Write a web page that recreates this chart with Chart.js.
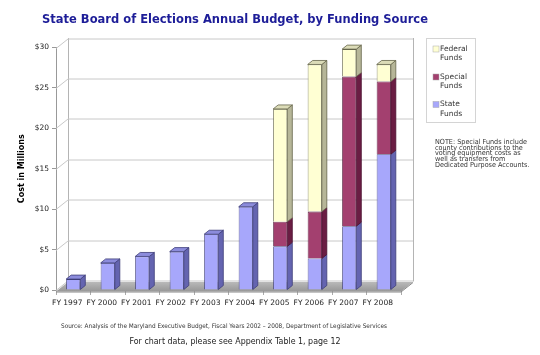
<!DOCTYPE html>
<html>
<head>
<meta charset="utf-8">
<script src="https://cdn.jsdelivr.net/npm/chart.js@4/dist/chart.umd.min.js"></script>
<style>
  html, body { margin: 0; padding: 0; background: #fff; }
  #c { display: block; width: 540px; height: 355px; }
</style>
</head>
<body>
<canvas id="c" width="540" height="355"></canvas>
<script>
// ---- data ----
const categories = ['FY 1997','FY 2000','FY 2001','FY 2002','FY 2003','FY 2004','FY 2005','FY 2006','FY 2007','FY 2008'];
const stateFunds   = [1.35, 3.35, 4.15, 4.75, 6.9, 10.3, 5.4, 3.9, 7.9, 16.8];
const specialFunds = [null, null, null, null, null, null, 3.05, 5.8, 18.5, 9.0];
const federalFunds = [null, null, null, null, null, null, 13.95, 18.2, 3.4, 2.1];
const seriesNames  = ['State Funds', 'Special Funds', 'Federal Funds'];
const legendLines  = [['Federal','Funds'], ['Special','Funds'], ['State','Funds']];
const yTickValues  = [0, 5, 10, 15, 20, 25, 30];
const titleText  = 'State Board of Elections Annual Budget, by Funding Source';
const yTitleText = 'Cost in Millions';
const noteLines  = ['NOTE: Special Funds include', 'county contributions to the', 'voting equipment costs as', 'well as transfers from', 'Dedicated Purpose Accounts.'];
const sourceText = 'Source: Analysis of the Maryland Executive Budget, Fiscal Years 2002 \u2013 2008, Department of Legislative Services';
const footerText = 'For chart data, please see Appendix Table 1, page 12';

const FONT = '"DejaVu Sans", Verdana, sans-serif';
const WALL_DX = 12, WALL_DY = -9.5;   // depth of the 3D box
const BAR_DX = 5, BAR_DY = -4;        // depth of each bar

function scaledText(ctx, text, font, color, x, y, targetW, align) {
  ctx.save();
  ctx.font = font;
  ctx.fillStyle = color;
  ctx.textBaseline = 'middle';
  const w = ctx.measureText(text).width;
  const sx = targetW ? targetW / w : 1;
  ctx.translate(x, y);
  ctx.scale(sx, 1);
  ctx.textAlign = align || 'center';
  ctx.fillText(text, 0, 0);
  ctx.restore();
}

const box3d = {
  id: 'box3d',
  beforeDatasetsDraw(chart) {
    const { ctx, chartArea: { left: L, right: R }, scales: { y } } = chart;
    const T = y.getPixelForValue(30), B = y.getPixelForValue(0);
    ctx.save();
    ctx.lineWidth = 1;
    // back wall edges
    ctx.strokeStyle = '#b4b4b4';
    ctx.beginPath();
    ctx.moveTo(L + WALL_DX + 0.5, T + WALL_DY);
    ctx.lineTo(L + WALL_DX + 0.5, B + WALL_DY);
    ctx.moveTo(R + WALL_DX + 0.5, T + WALL_DY);
    ctx.lineTo(R + WALL_DX + 0.5, B + WALL_DY + 1);
    ctx.stroke();
    // gridlines on the back wall + left wall diagonals
    ctx.strokeStyle = '#c8c8c8';
    y.ticks.forEach(t => {
      const py = Math.round(y.getPixelForValue(t.value)) + 0.5;
      ctx.beginPath();
      ctx.moveTo(L, py);
      ctx.lineTo(L + WALL_DX, py + WALL_DY);
      ctx.lineTo(R + WALL_DX, py + WALL_DY);
      ctx.stroke();
    });
    // floor
    const fb = B + 1.5;
    const g = ctx.createLinearGradient(0, fb + WALL_DY, 0, fb);
    g.addColorStop(0, '#b9b9b9');
    g.addColorStop(1, '#979797');
    ctx.fillStyle = g;
    ctx.beginPath();
    ctx.moveTo(L, fb);
    ctx.lineTo(R, fb);
    ctx.lineTo(R + WALL_DX, fb + WALL_DY);
    ctx.lineTo(L + WALL_DX, fb + WALL_DY);
    ctx.closePath();
    ctx.fill();
    ctx.strokeStyle = '#8a8a8a';
    ctx.beginPath();
    ctx.moveTo(L, fb + 0.5);
    ctx.lineTo(R, fb + 0.5);
    ctx.lineTo(R + WALL_DX, fb + WALL_DY + 0.5);
    ctx.stroke();
    ctx.restore();
  },
  afterDatasetsDraw(chart) {
    const { ctx } = chart;
    const n = chart.data.labels.length;
    ctx.save();
    ctx.lineWidth = 0.8;
    for (let i = 0; i < n; i++) {
      let topDs = -1;
      chart.data.datasets.forEach((ds, di) => { if (ds.data[i] != null && ds.data[i] > 0) topDs = di; });
      chart.data.datasets.forEach((ds, di) => {
        if (ds.data[i] == null || !(ds.data[i] > 0)) return;
        const el = chart.getDatasetMeta(di).data[i];
        const p = el.getProps(['x', 'y', 'base', 'width'], true);
        const xl = p.x - p.width / 2, xr = p.x + p.width / 2;
        ctx.strokeStyle = ds.borderColor;
        ctx.fillStyle = ds.sideColor;
        ctx.beginPath();
        ctx.moveTo(xr, p.y);
        ctx.lineTo(xr + BAR_DX, p.y + BAR_DY);
        ctx.lineTo(xr + BAR_DX, p.base + BAR_DY);
        ctx.lineTo(xr, p.base);
        ctx.closePath();
        ctx.fill();
        ctx.stroke();
        if (di === topDs) {
          ctx.fillStyle = ds.topColor;
          ctx.beginPath();
          ctx.moveTo(xl, p.y);
          ctx.lineTo(xl + BAR_DX, p.y + BAR_DY);
          ctx.lineTo(xr + BAR_DX, p.y + BAR_DY);
          ctx.lineTo(xr, p.y);
          ctx.closePath();
          ctx.fill();
          ctx.stroke();
        }
      });
    }
    ctx.restore();
  },
  afterDraw(chart) {
    const { ctx } = chart;
    scaledText(ctx, titleText, 'bold 13px ' + FONT, '#1d1d98', 235, 20, 386, 'center');
    // legend box
    ctx.save();
    ctx.fillStyle = '#fff';
    ctx.strokeStyle = '#d4d4d4';
    ctx.lineWidth = 1;
    ctx.fillRect(426.5, 38.5, 49, 84);
    ctx.strokeRect(426.5, 38.5, 49, 84);
    const order = [2, 1, 0];
    const itemY = [49, 77, 104.5];
    ctx.font = '7.5px ' + FONT;
    ctx.textBaseline = 'middle';
    ctx.textAlign = 'left';
    order.forEach((di, k) => {
      const ds = chart.data.datasets[di];
      ctx.fillStyle = ds.backgroundColor;
      ctx.fillRect(433, itemY[k] - 3, 6, 6);
      ctx.strokeStyle = '#aaa';
      ctx.lineWidth = 0.5;
      ctx.strokeRect(433, itemY[k] - 3, 6, 6);
      ctx.fillStyle = '#333';
      ctx.fillText(legendLines[k][0], 440, itemY[k]);
      ctx.fillText(legendLines[k][1], 440, itemY[k] + 9.5);
    });
    ctx.restore();
    // note
    const noteFont = '7px ' + FONT;
    ctx.save();
    ctx.font = noteFont;
    const noteScale = 92 / ctx.measureText(noteLines[0]).width;
    const noteW = noteLines.map(ln => ctx.measureText(ln).width * noteScale);
    ctx.restore();
    const noteY = [142, 147.8, 153.5, 159.2, 165];
    noteLines.forEach((ln, k) => {
      scaledText(ctx, ln, noteFont, '#333', 435, noteY[k], noteW[k], 'left');
    });
    scaledText(ctx, sourceText, '6.3px ' + FONT, '#333', 224, 326, 326, 'center');
    scaledText(ctx, footerText, '8.3px ' + FONT, '#222', 235, 342, 211, 'center');
  }
};

new Chart(document.getElementById('c'), {
  type: 'bar',
  data: {
    labels: categories,
    datasets: [
      { label: seriesNames[0], data: stateFunds,   backgroundColor: '#a7a7fb', borderColor: '#3e3e78', sideColor: '#6464b0', topColor: '#8c8cdc', borderWidth: 0.8 },
      { label: seriesNames[1], data: specialFunds, backgroundColor: '#a3406f', borderColor: '#4a1030', sideColor: '#6a1d43', topColor: '#86305a', borderWidth: 0.8 },
      { label: seriesNames[2], data: federalFunds, backgroundColor: '#ffffd3', borderColor: '#66664a', sideColor: '#b6b698', topColor: '#dcdcb8', borderWidth: 0.8 }
    ]
  },
  options: {
    responsive: false,
    animation: false,
    devicePixelRatio: 1,
    layout: { padding: { left: 0, top: 47.5, right: 139, bottom: 35 } },
    datasets: { bar: { categoryPercentage: 1, barPercentage: 0.41 } },
    plugins: { legend: { display: false }, tooltip: { enabled: false }, title: { display: false } },
    scales: {
      x: {
        stacked: true,
        grid: { offset: true, drawOnChartArea: false, tickLength: 5, color: '#aaa' },
        border: { display: false },
        ticks: { font: { family: FONT, size: 7.5 }, color: '#222', padding: 4, labelOffset: -6, maxRotation: 0, autoSkip: false },
        afterFit(s) { s.height = 30; }
      },
      y: {
        stacked: true,
        min: 0, max: 30,
        afterBuildTicks(s) { s.ticks = yTickValues.map(v => ({ value: v })); },
        ticks: { callback: v => '$' + v, font: { family: FONT, size: 7.5 }, color: '#222', padding: 3 },
        grid: { drawOnChartArea: false, tickLength: 4, color: '#999' },
        border: { color: '#999' },
        title: { display: true, text: yTitleText, font: { family: FONT, size: 8, weight: 'bold' }, color: '#000', padding: { top: 17, bottom: 0 } },
        afterFit(s) { s.width = 56; }
      }
    }
  },
  plugins: [box3d]
});
</script>
</body>
</html>
